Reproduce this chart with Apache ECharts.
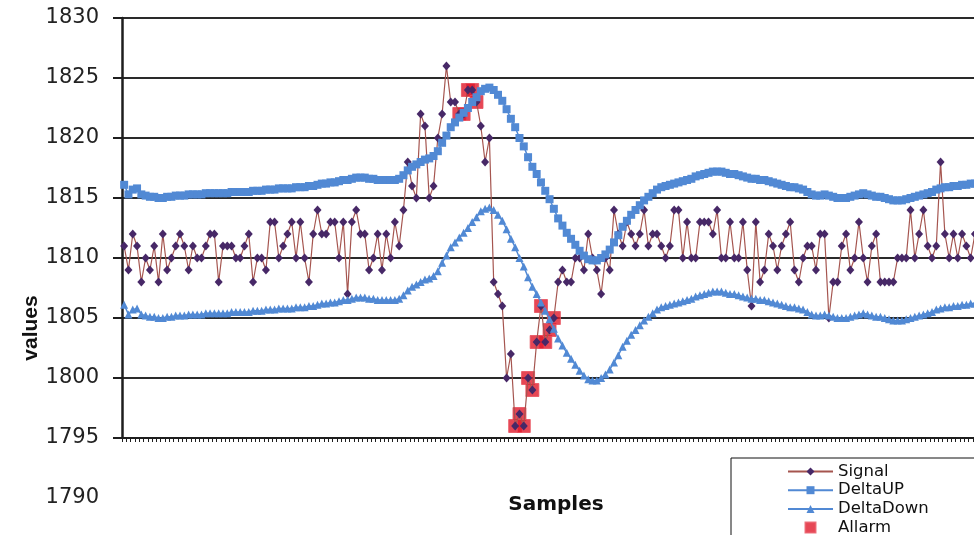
<!DOCTYPE html>
<html>
<head>
<meta charset="utf-8">
<title>Signal / DeltaUP / DeltaDown</title>
<script src="https://cdn.jsdelivr.net/npm/echarts@6/dist/echarts.min.js"></script>
<style>
  html, body { margin: 0; padding: 0; background: #fff; }
  #chart { width: 974px; height: 535px; }
</style>
</head>
<body>
<div id="chart"></div>
<script>
// Raw samples of the monitored signal
const signal = [
  1811,1809,1812,1811,1808,1810,1809,1811,1808,1812,
  1809,1810,1811,1812,1811,1809,1811,1810,1810,1811,
  1812,1812,1808,1811,1811,1811,1810,1810,1811,1812,
  1808,1810,1810,1809,1813,1813,1810,1811,1812,1813,
  1810,1813,1810,1808,1812,1814,1812,1812,1813,1813,
  1810,1813,1807,1813,1814,1812,1812,1809,1810,1812,
  1809,1812,1810,1813,1811,1814,1818,1816,1815,1822,
  1821,1815,1816,1820,1822,1826,1823,1823,1822,1822,
  1824,1824,1823,1821,1818,1820,1808,1807,1806,1800,
  1802,1796,1797,1796,1800,1799,1803,1806,1803,1804,
  1805,1808,1809,1808,1808,1810,1810,1809,1812,1810,
  1809,1807,1810,1809,1814,1812,1811,1813,1812,1811,
  1812,1814,1811,1812,1812,1811,1810,1811,1814,1814,
  1810,1813,1810,1810,1813,1813,1813,1812,1814,1810,
  1810,1813,1810,1810,1813,1809,1806,1813,1808,1809,
  1812,1811,1809,1811,1812,1813,1809,1808,1810,1811,
  1811,1809,1812,1812,1805,1808,1808,1811,1812,1809,
  1810,1813,1810,1808,1811,1812,1808,1808,1808,1808,
  1810,1810,1810,1814,1810,1812,1814,1811,1810,1811,
  1818,1812,1810,1812,1810,1812,1811,1810,1812,1811,
  1810,1811
];

// Upper band
const deltaUp = [
  1816.1,1815.3,1815.7,1815.8,1815.3,1815.2,1815.1,1815.1,1815.0,1815.0,
  1815.1,1815.1,1815.2,1815.2,1815.2,1815.3,1815.3,1815.3,1815.3,1815.4,
  1815.4,1815.4,1815.4,1815.4,1815.4,1815.5,1815.5,1815.5,1815.5,1815.5,
  1815.6,1815.6,1815.6,1815.7,1815.7,1815.7,1815.8,1815.8,1815.8,1815.8,
  1815.9,1815.9,1815.9,1816.0,1816.0,1816.1,1816.2,1816.2,1816.3,1816.3,
  1816.4,1816.5,1816.5,1816.6,1816.7,1816.7,1816.7,1816.6,1816.6,1816.5,
  1816.5,1816.5,1816.5,1816.5,1816.6,1816.9,1817.3,1817.6,1817.8,1818.0,
  1818.2,1818.3,1818.5,1818.9,1819.6,1820.2,1820.9,1821.3,1821.7,1822.1,
  1822.5,1823.0,1823.4,1823.9,1824.1,1824.2,1824.0,1823.6,1823.1,1822.4,
  1821.6,1820.9,1820.0,1819.3,1818.4,1817.6,1817.0,1816.3,1815.6,1814.9,
  1814.1,1813.3,1812.7,1812.1,1811.6,1811.1,1810.6,1810.2,1809.9,1809.8,
  1809.8,1810.0,1810.3,1810.7,1811.3,1811.9,1812.6,1813.1,1813.6,1814.0,
  1814.4,1814.8,1815.1,1815.4,1815.7,1815.9,1816.0,1816.1,1816.2,1816.3,
  1816.4,1816.5,1816.6,1816.8,1816.9,1817.0,1817.1,1817.2,1817.2,1817.2,
  1817.1,1817.0,1817.0,1816.9,1816.8,1816.7,1816.6,1816.6,1816.5,1816.5,
  1816.4,1816.3,1816.2,1816.1,1816.0,1815.9,1815.9,1815.8,1815.7,1815.5,
  1815.3,1815.2,1815.2,1815.3,1815.2,1815.1,1815.0,1815.0,1815.0,1815.1,
  1815.2,1815.3,1815.4,1815.3,1815.2,1815.1,1815.1,1815.0,1814.9,1814.8,
  1814.8,1814.8,1814.9,1815.0,1815.1,1815.2,1815.3,1815.4,1815.5,1815.7,
  1815.8,1815.9,1815.9,1816.0,1816.0,1816.1,1816.1,1816.2,1816.2,1816.2,
  1816.3,1816.3
];

// Lower band
const deltaDown = [
  1806.1,1805.3,1805.7,1805.8,1805.3,1805.2,1805.1,1805.1,1805.0,1805.0,
  1805.1,1805.1,1805.2,1805.2,1805.2,1805.3,1805.3,1805.3,1805.3,1805.4,
  1805.4,1805.4,1805.4,1805.4,1805.4,1805.5,1805.5,1805.5,1805.5,1805.5,
  1805.6,1805.6,1805.6,1805.7,1805.7,1805.7,1805.8,1805.8,1805.8,1805.8,
  1805.9,1805.9,1805.9,1806.0,1806.0,1806.1,1806.2,1806.2,1806.3,1806.3,
  1806.4,1806.5,1806.5,1806.6,1806.7,1806.7,1806.7,1806.6,1806.6,1806.5,
  1806.5,1806.5,1806.5,1806.5,1806.6,1806.9,1807.3,1807.6,1807.8,1808.0,
  1808.2,1808.3,1808.5,1808.9,1809.6,1810.2,1810.9,1811.3,1811.7,1812.1,
  1812.5,1813.0,1813.4,1813.9,1814.1,1814.2,1814.0,1813.6,1813.1,1812.4,
  1811.6,1810.9,1810.0,1809.3,1808.4,1807.6,1807.0,1806.3,1805.6,1804.9,
  1804.1,1803.3,1802.7,1802.1,1801.6,1801.1,1800.6,1800.2,1799.9,1799.8,
  1799.8,1800.0,1800.3,1800.7,1801.3,1801.9,1802.6,1803.1,1803.6,1804.0,
  1804.4,1804.8,1805.1,1805.4,1805.7,1805.9,1806.0,1806.1,1806.2,1806.3,
  1806.4,1806.5,1806.6,1806.8,1806.9,1807.0,1807.1,1807.2,1807.2,1807.2,
  1807.1,1807.0,1807.0,1806.9,1806.8,1806.7,1806.6,1806.6,1806.5,1806.5,
  1806.4,1806.3,1806.2,1806.1,1806.0,1805.9,1805.9,1805.8,1805.7,1805.5,
  1805.3,1805.2,1805.2,1805.3,1805.2,1805.1,1805.0,1805.0,1805.0,1805.1,
  1805.2,1805.3,1805.4,1805.3,1805.2,1805.1,1805.1,1805.0,1804.9,1804.8,
  1804.8,1804.8,1804.9,1805.0,1805.1,1805.2,1805.3,1805.4,1805.5,1805.7,
  1805.8,1805.9,1805.9,1806.0,1806.0,1806.1,1806.1,1806.2,1806.2,1806.2,
  1806.3,1806.3
];

// Samples flagged as out of band
const alarmSamples = [78, 79, 80, 81, 82, 91, 92, 93, 94, 95, 96, 97, 98, 99, 100];
const alarmValues  = [1822, 1822, 1824, 1824, 1823, 1796, 1797, 1796, 1800, 1799, 1803, 1806, 1803, 1804, 1805];

// Value-axis tick labels
const yTickLabels = ['1790', '1795', '1800', '1805', '1810', '1815', '1820', '1825', '1830'];

// Sample numbers for the category axis
const sampleNumbers = signal.map((_, i) => String(i + 1));

const FONT = '"DejaVu Sans", Verdana, sans-serif';
const BLUE = '#5189d4';

const chart = echarts.init(document.getElementById('chart'), null, { renderer: 'canvas' });

chart.setOption({
  animation: false,
  backgroundColor: '#ffffff',
  grid: [
    { left: 122, top: 18, width: 868, height: 420, outerBoundsMode: 'none', containLabel: false },
    { left: 122, top: 18, width: 868, height: 480, outerBoundsMode: 'none', containLabel: false }
  ],
  xAxis: [
    {
      type: 'category',
      gridIndex: 0,
      data: sampleNumbers,
      boundaryGap: true,
      axisLine: { show: true, lineStyle: { color: '#1e1e1e', width: 2 } },
      axisTick: { show: true, interval: 0, length: 4, lineStyle: { color: '#1e1e1e', width: 1 } },
      axisLabel: { show: false },
      splitLine: { show: false },
      name: 'Samples',
      nameLocation: 'middle',
      nameGap: 57,
      nameTextStyle: { fontFamily: FONT, fontSize: 20, fontWeight: 'bold', color: '#111' }
    },
    {
      type: 'category',
      gridIndex: 1,
      data: sampleNumbers,
      show: false
    }
  ],
  yAxis: [
    {
      type: 'value',
      gridIndex: 0,
      min: 1795,
      max: 1830,
      interval: 5,
      axisLine: { show: true, lineStyle: { color: '#1e1e1e', width: 2.5 } },
      axisTick: { show: true, length: 9, lineStyle: { color: '#1e1e1e', width: 2 } },
      axisLabel: { show: false },
      splitLine: { show: true, lineStyle: { color: '#2a2a2a', width: 2 } }
    },
    {
      type: 'value',
      gridIndex: 1,
      min: 1790,
      max: 1830,
      interval: 5,
      axisLine: { show: false },
      axisTick: { show: false },
      splitLine: { show: false },
      axisLabel: {
        show: true,
        margin: 23,
        fontFamily: FONT,
        fontSize: 21,
        color: '#222',
        formatter: v => yTickLabels[Math.round((v - 1790) / 5)]
      }
    }
  ],
  legend: {
    orient: 'vertical',
    left: 731,
    top: 458,
    height: 90,
    padding: [5, 110, 40, 56],
    itemWidth: 45,
    itemHeight: 10,
    itemGap: 1.7,
    borderColor: '#111',
    borderWidth: 1,
    backgroundColor: '#ffffff',
    selectedMode: false,
    textStyle: { fontFamily: FONT, fontSize: 16.5, color: '#111', lineHeight: 16 },
    data: ['Signal', 'DeltaUP', 'DeltaDown', { name: 'Allarm', icon: 'path://M0,0L10,0L10,10L0,10Z' }]
  },
  graphic: [
    {
      type: 'text',
      x: 31,
      y: 328,
      rotation: Math.PI / 2,
      style: {
        text: 'values',
        font: 'bold 21px "Liberation Sans", Arial, sans-serif',
        fill: '#111',
        align: 'center',
        verticalAlign: 'middle',
        textAlign: 'center',
        textVerticalAlign: 'middle'
      }
    }
  ],
  series: [
    {
      name: 'Signal',
      type: 'line',
      xAxisIndex: 0,
      yAxisIndex: 0,
      data: signal,
      symbol: 'diamond',
      symbolSize: [8, 9],
      showAllSymbol: true,
      lineStyle: { color: '#a5554f', width: 1.2 },
      itemStyle: { color: '#472867' },
      emphasis: { disabled: true }
    },
    {
      name: 'DeltaUP',
      type: 'line',
      xAxisIndex: 0,
      yAxisIndex: 0,
      data: deltaUp,
      symbol: 'rect',
      symbolSize: 8,
      showAllSymbol: true,
      lineStyle: { color: BLUE, width: 1.5 },
      itemStyle: { color: BLUE },
      emphasis: { disabled: true }
    },
    {
      name: 'DeltaDown',
      type: 'line',
      xAxisIndex: 0,
      yAxisIndex: 0,
      data: deltaDown,
      symbol: 'triangle',
      symbolSize: 8,
      showAllSymbol: true,
      lineStyle: { color: BLUE, width: 1.5 },
      itemStyle: { color: BLUE },
      emphasis: { disabled: true }
    },
    {
      name: 'Allarm',
      type: 'scatter',
      xAxisIndex: 0,
      yAxisIndex: 0,
      data: alarmSamples.map((s, k) => [s, alarmValues[k]]),
      symbol: 'rect',
      symbolSize: 13,
      itemStyle: { color: '#e0192b', borderColor: '#e9505e', borderWidth: 1 },
      emphasis: { disabled: true }
    }
  ]
});
</script>
</body>
</html>
